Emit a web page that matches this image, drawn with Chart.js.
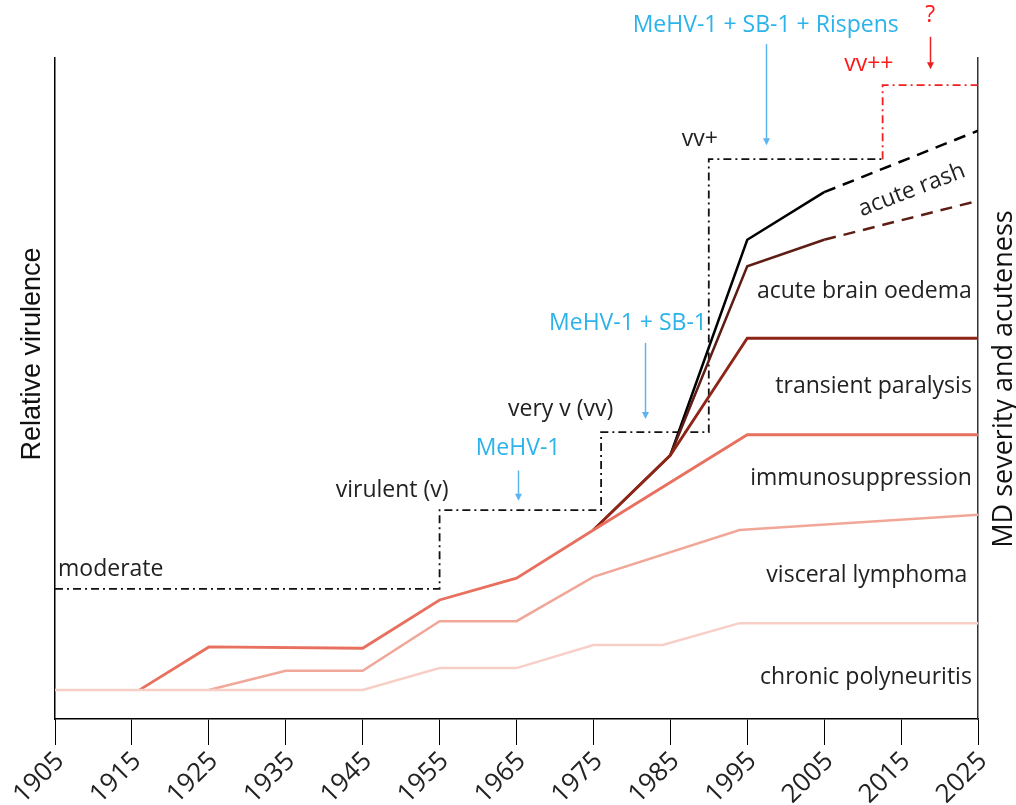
<!DOCTYPE html>
<html>
<head>
<meta charset="utf-8">
<script src="https://cdn.jsdelivr.net/npm/chart.js@4.4.1/dist/chart.umd.min.js"></script>
<style>
  html, body { margin: 0; padding: 0; background: #fff; }
  #wrap { width: 1016px; height: 805px; }
</style>
</head>
<body>
<div id="wrap"><canvas id="myChart" width="1016" height="805"></canvas></div>
<script>
// x = year, y = relative level (0-100)
const tickYears = [1905, 1915, 1925, 1935, 1945, 1955, 1965, 1975, 1985, 1995, 2005, 2015, 2025];

const chronicYears = [1905, 1945, 1955, 1965, 1975, 1984, 1994, 2025];
const chronicVals  = [4.4, 4.4, 7.7, 7.7, 11.2, 11.2, 14.5, 14.5];

const visceralYears = [1925, 1935, 1945, 1955, 1965, 1975, 1994, 2025];
const visceralVals  = [4.4, 7.3, 7.3, 14.8, 14.8, 21.5, 28.6, 30.9];

const immunoYears = [1916, 1925, 1945, 1955, 1965, 1975, 1995, 2025];
const immunoVals  = [4.4, 10.9, 10.7, 18.0, 21.3, 28.6, 43.0, 43.0];

const paralysisYears = [1975, 1985, 1995, 2025];
const paralysisVals  = [28.6, 39.9, 57.6, 57.6];

const oedemaYears = [1975, 1985, 1995, 2005];
const oedemaVals  = [28.6, 39.9, 68.5, 72.5];
const oedemaFutureYears = [2005, 2025];
const oedemaFutureVals  = [72.5, 78.4];

const rashYears = [1985, 1995, 2005];
const rashVals  = [39.9, 72.5, 79.7];
const rashFutureYears = [2005, 2025];
const rashFutureVals  = [79.7, 89.0];

// pathotype steps (moderate, v, vv, vv+) and the predicted vv++
const stepYears = [1905, 1955, 1976, 1990, 2012.6];
const stepVals  = [19.7, 31.6, 43.4, 84.7, 84.7];
const vvppYears = [2012.6, 2012.6, 2025];
const vvppVals  = [84.7, 95.9, 95.9];

// text notes: year / level of anchor
const notes = [
  { text: 'moderate', x: 1905.4, y: 21.6, align: 'left', color: '#222' },
  { text: 'virulent (v)', x: 1941.5, y: 33.6, align: 'left', color: '#222' },
  { text: 'very v (vv)', x: 1963.9, y: 45.8, align: 'left', color: '#222' },
  { text: 'vv+', x: 1986.5, y: 86.7, align: 'left', color: '#222' },
  { text: 'vv++', x: 2007.6, y: 98.0, align: 'left', color: '#ff1a1a' },
  { text: '?', x: 2018.8, y: 105.4, align: 'center', color: '#ff1a1a' },
  { text: 'MeHV-1 + SB-1 + Rispens', x: 1997.4, y: 103.9, align: 'center', color: '#2bb3ea' },
  { text: 'MeHV-1 + SB-1', x: 1979.5, y: 58.9, align: 'center', color: '#2bb3ea' },
  { text: 'MeHV-1', x: 1965.2, y: 39.9, align: 'center', color: '#2bb3ea' },
  { text: 'acute brain oedema', x: 2024.2, y: 63.7, align: 'right', color: '#222' },
  { text: 'transient paralysis', x: 2024.2, y: 49.3, align: 'right', color: '#222' },
  { text: 'immunosuppression', x: 2024.2, y: 35.4, align: 'right', color: '#222' },
  { text: 'visceral lymphoma', x: 2023.6, y: 20.7, align: 'right', color: '#222' },
  { text: 'chronic polyneuritis', x: 2024.2, y: 5.3, align: 'right', color: '#222' },
  { text: 'acute rash', x: 2016.4, y: 80.0, align: 'center', color: '#222', angle: -21 }
];

const arrows = [
  { x: 1965.2, from: 37.6, to: 33.0, color: '#5cb4f0' },
  { x: 1981.7, from: 56.9, to: 45.4, color: '#5cb4f0' },
  { x: 1997.4, from: 102.1, to: 86.8, color: '#5cb4f0' },
  { x: 2018.8, from: 103.2, to: 98.3, color: '#f02020' }
];

function pts(xs, ys) {
  return xs.map((x, i) => ({ x: x, y: ys[i] }));
}

function line(data, color, width, dash, stepped) {
  return {
    data: data,
    borderColor: color,
    borderWidth: width,
    borderDash: dash || [],
    stepped: stepped || false,
    pointRadius: 0,
    fill: false,
    tension: 0
  };
}

const notesPlugin = {
  id: 'notes',
  afterDatasetsDraw(chart) {
    const { ctx, scales: { x, y }, chartArea } = chart;
    ctx.save();
    arrows.forEach(a => {
      const px = Math.round(x.getPixelForValue(a.x)) + 0.5;
      const p1 = y.getPixelForValue(a.from);
      const p2 = y.getPixelForValue(a.to);
      ctx.strokeStyle = a.color;
      ctx.fillStyle = a.color;
      ctx.lineWidth = 1.5;
      ctx.beginPath();
      ctx.moveTo(px, p1);
      ctx.lineTo(px, p2 - 5);
      ctx.stroke();
      ctx.beginPath();
      ctx.moveTo(px - 3.5, p2 - 7);
      ctx.lineTo(px + 3.5, p2 - 7);
      ctx.lineTo(px, p2);
      ctx.closePath();
      ctx.fill();
    });

    ctx.font = '23px "Open Sans", sans-serif';
    ctx.textBaseline = 'alphabetic';
    notes.forEach(n => {
      const px = x.getPixelForValue(n.x);
      const py = y.getPixelForValue(n.y);
      ctx.fillStyle = n.color;
      ctx.textAlign = n.align;
      if (n.angle) {
        ctx.save();
        ctx.translate(px, py);
        ctx.rotate(n.angle * Math.PI / 180);
        ctx.textBaseline = 'middle';
        ctx.fillText(n.text, 0, 0);
        ctx.restore();
      } else {
        ctx.fillText(n.text, px, py);
      }
    });

    // axis titles, both read bottom to top
    ctx.fillStyle = '#111';
    ctx.textAlign = 'center';
    ctx.textBaseline = 'middle';
    ctx.save();
    ctx.font = '27px "Liberation Sans", Arial, sans-serif';
    ctx.translate(chartArea.left - 22, 354);
    ctx.rotate(-Math.PI / 2);
    ctx.fillText('Relative virulence', 0, 0);
    ctx.restore();
    ctx.save();
    ctx.font = '27px "Open Sans", sans-serif';
    ctx.translate(chartArea.right + 26, 379);
    ctx.rotate(-Math.PI / 2);
    ctx.fillText('MD severity and acuteness', 0, 0);
    ctx.restore();
    ctx.restore();
  }
};

const ctx = document.getElementById('myChart').getContext('2d');
const myChart = new Chart(ctx, {
  type: 'line',
  data: {
    datasets: [
      line(pts(chronicYears, chronicVals), '#f8cfc7', 2.5),
      line(pts(visceralYears, visceralVals), '#f1a798', 2.5),
      line(pts(immunoYears, immunoVals), '#e8705f', 2.8),
      line(pts(paralysisYears, paralysisVals), '#8e2517', 2.8),
      line(pts(oedemaYears, oedemaVals), '#5e1d14', 2.5),
      line(pts(oedemaFutureYears, oedemaFutureVals), '#5e1d14', 2.5, [12, 8]),
      line(pts(rashYears, rashVals), '#000000', 2.5),
      line(pts(rashFutureYears, rashFutureVals), '#000000', 2.5, [12, 8]),
      line(pts(stepYears, stepVals), '#111111', 1.8, [8, 4, 2, 4], true),
      line(pts(vvppYears, vvppVals), '#f02020', 1.8, [8, 4, 2, 4])
    ]
  },
  options: {
    responsive: false,
    animation: false,
    layout: { padding: { left: 55, right: 38, top: 58, bottom: 0 } },
    plugins: {
      legend: { display: false },
      tooltip: { enabled: false }
    },
    scales: {
      x: {
        type: 'linear',
        min: 1905,
        max: 2025,
        afterBuildTicks: scale => { scale.ticks = tickYears.map(v => ({ value: v })); },
        afterFit: scale => { scale.height = 86; },
        ticks: {
          autoSkip: false,
          maxRotation: 45,
          minRotation: 45,
          padding: 1,
          labelOffset: 5,
          color: '#222',
          font: { family: '"Open Sans", sans-serif', size: 26 },
          callback: v => String(v)
        },
        grid: { display: true, drawOnChartArea: false, drawTicks: true, tickLength: 26, color: '#000', lineWidth: 1 },
        border: { display: true, color: '#000', width: 1.5 }
      },
      y: {
        position: 'left',
        min: 0,
        max: 100,
        afterFit: scale => { scale.width = 0; },
        ticks: { display: false },
        grid: { display: false },
        border: { display: true, color: '#000', width: 1.5 }
      },
      y2: {
        position: 'right',
        min: 0,
        max: 100,
        afterFit: scale => { scale.width = 0; },
        ticks: { display: false },
        grid: { display: false },
        border: { display: true, color: '#333', width: 1.5 }
      }
    }
  },
  plugins: [notesPlugin]
});
</script>
</body>
</html>
